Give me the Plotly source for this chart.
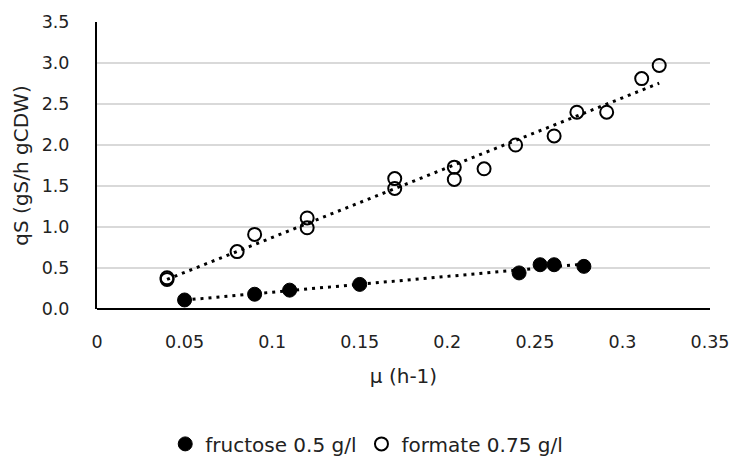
import numpy as np
import plotly.graph_objects as go

fructose_x = [0.05, 0.09, 0.11, 0.15, 0.241, 0.253, 0.261, 0.278]
fructose_y = [0.11, 0.18, 0.23, 0.30, 0.44, 0.54, 0.54, 0.52]

formate_x = [0.04, 0.04, 0.08, 0.09, 0.12, 0.12, 0.17, 0.17, 0.204, 0.204, 0.221, 0.239, 0.261, 0.274, 0.291, 0.311, 0.321]
formate_y = [0.36, 0.38, 0.70, 0.91, 1.11, 0.99, 1.59, 1.47, 1.73, 1.58, 1.71, 2.00, 2.11, 2.40, 2.40, 2.81, 2.97]

x_ticks = [0, 0.05, 0.1, 0.15, 0.2, 0.25, 0.3, 0.35]
x_tick_labels = ["0", "0.05", "0.1", "0.15", "0.2", "0.25", "0.3", "0.35"]
y_ticks = [0.0, 0.5, 1.0, 1.5, 2.0, 2.5, 3.0, 3.5]

FONT = "DejaVu Sans"

fig = go.Figure()

def trend(xs, ys):
    a, b = np.polyfit(xs, ys, 1)
    xr = np.array([min(xs), max(xs)])
    return xr, a * xr + b

for xs, ys in [(fructose_x, fructose_y), (formate_x, formate_y)]:
    tx, ty = trend(xs, ys)
    fig.add_trace(go.Scatter(x=tx, y=ty, mode="lines",
                             line=dict(color="black", width=3, dash="3px,5px"),
                             showlegend=False, hoverinfo="skip"))

fig.add_trace(go.Scatter(x=fructose_x, y=fructose_y, mode="markers",
                         name="fructose 0.5 g/l",
                         marker=dict(symbol="circle", size=14, color="black",
                                     line=dict(color="black", width=1))))
fig.add_trace(go.Scatter(x=formate_x, y=formate_y, mode="markers",
                         name="formate 0.75 g/l",
                         marker=dict(symbol="circle-open", size=13, color="black",
                                     line=dict(color="black", width=2))))

fig.update_layout(
    width=741, height=475,
    margin=dict(l=97, r=24, t=20, b=157),
    plot_bgcolor="white", paper_bgcolor="white",
    font=dict(family=FONT, size=17.5, color="#222222"),
    xaxis=dict(range=[0, 0.35], tickvals=x_ticks, ticktext=x_tick_labels,
               showgrid=False, zeroline=False, showline=False,
               ticks="", ticklen=0, ticklabelstandoff=20,
               title=dict(text="μ (h-1)", font=dict(size=20), standoff=18)),
    yaxis=dict(range=[0, 3.5], tickvals=y_ticks, tickformat=".1f",
               showgrid=True, gridcolor="#d9d9d9", gridwidth=1.5,
               zeroline=True, zerolinecolor="black", zerolinewidth=2,
               showline=True, linecolor="black", linewidth=2,
               ticks="", ticklen=0, ticklabelstandoff=22,
               title=dict(text="qS (gS/h gCDW)", font=dict(size=20), standoff=8)),
    legend=dict(orientation="h", x=0.44, xanchor="center", y=-0.47, yanchor="middle",
                font=dict(size=20), itemwidth=30, bgcolor="rgba(0,0,0,0)"),
)

fig.write_html("out.html")
